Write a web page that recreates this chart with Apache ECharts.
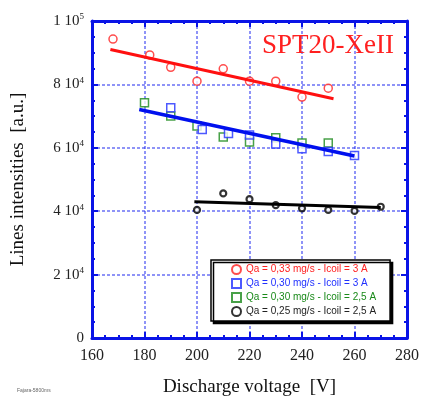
<!DOCTYPE html>
<html>
<head>
<meta charset="utf-8">
<script src="https://cdn.jsdelivr.net/npm/echarts@6/dist/echarts.min.js"></script>
<style>
html, body { margin: 0; padding: 0; background: #fff; }
#chart { width: 422px; height: 402px; }
</style>
</head>
<body>
<div id="chart"></div>
<script>
//measured points (discharge voltage, line intensity)
var redX = [168, 182, 190, 200, 210, 220, 230, 240, 250];
var redY = [94300, 89300, 85400, 81000, 84900, 81000, 81000, 76000, 78800];
var blueX = [190, 202, 212, 220, 230, 240, 250, 260];
var blueY = [72600, 65800, 64500, 64000, 61200, 59700, 58800, 57600];
var greenX = [180, 190, 200, 210, 220, 230, 240, 250];
var greenY = [74200, 70000, 66900, 63400, 61800, 63200, 61500, 61500];
var blackX = [200, 210, 220, 230, 240, 250, 260, 270];
var blackY = [40400, 45600, 43800, 41900, 40900, 40400, 40100, 41400];

//fit lines (end points)
var redFitX = [167, 252];
var redFitY = [91000, 75500];
var blueFitX = [178, 260];
var blueFitY = [72100, 57400];
var blackFitX = [199, 270];
var blackFitY = [43000, 41200];

var seriesNames = [
    'Qa = 0,33 mg/s - Icoil = 3 A',
    'Qa = 0,30 mg/s - Icoil = 3 A',
    'Qa = 0,30 mg/s - Icoil = 2,5 A',
    'Qa = 0,25 mg/s - Icoil = 2,5 A'
];
var yTickText = ['0', '2 10{s|4}', '4 10{s|4}', '6 10{s|4}', '8 10{s|4}', '1 10{s|5}'];

function pairs(xs, ys) {
    var out = [];
    for (var i = 0; i < xs.length; i++) out.push([xs[i], ys[i]]);
    return out;
}

var blue = '#0a14e6';
var serif = '"Liberation Serif", "DejaVu Serif", serif';

var chart = echarts.init(document.getElementById('chart'));

var tickStyle = { show: true, inside: true, length: 6, lineStyle: { color: blue, width: 2 } };
var minorStyle = { show: true, splitNumber: 4, length: 3, lineStyle: { color: blue, width: 2 } };
var gridLine = { show: true, lineStyle: { color: 'rgba(40,50,240,0.7)', width: 1.5, type: [3, 2] } };

var option = {
    animation: false,
    backgroundColor: '#fff',
    title: {
        text: 'SPT20-XeII',
        left: 257,
        top: 27,
        textStyle: { fontFamily: serif, fontWeight: 'normal', fontSize: 27, color: '#ff2020' }
    },
    graphic: [{
        type: 'text',
        left: 17,
        top: 388,
        style: { text: 'Fajara-5800ms', fontSize: 5, fill: '#666', fontFamily: 'Arial' }
    }],
    legend: {
        orient: 'vertical',
        left: 211,
        top: 260,
        padding: [4, 14, 4, 20],
        itemWidth: 9,
        itemHeight: 9,
        itemGap: 3,
        backgroundColor: '#fff',
        borderColor: '#000',
        borderWidth: 1.5,
        shadowColor: '#000',
        shadowOffsetX: 2.5,
        shadowOffsetY: 2.5,
        shadowBlur: 0,
        textStyle: { fontFamily: 'Arial, "Liberation Sans"', fontSize: 10, lineHeight: 10 },
        data: [
            { name: seriesNames[0], textStyle: { color: '#ff2020' } },
            { name: seriesNames[1], textStyle: { color: '#2030ff' } },
            { name: seriesNames[2], textStyle: { color: '#1a8a1a' } },
            { name: seriesNames[3], textStyle: { color: '#222' } }
        ]
    },
    grid: { left: 92, right: 12, top: 21, bottom: 62, containLabel: false },
    xAxis: [{
        type: 'value',
        min: 160,
        max: 280,
        interval: 20,
        name: 'Discharge voltage  [V]',
        nameLocation: 'middle',
        nameGap: 40,
        nameTextStyle: { fontFamily: serif, fontSize: 19, color: '#111' },
        axisLine: { show: true, onZero: false, lineStyle: { color: blue, width: 3 } },
        axisTick: tickStyle,
        minorTick: minorStyle,
        splitLine: gridLine,
        axisLabel: { margin: 10, fontFamily: serif, fontSize: 16, color: '#222' }
    }, {
        type: 'value',
        position: 'top',
        min: 160,
        max: 280,
        interval: 20,
        axisLine: { show: true, onZero: false, lineStyle: { color: blue, width: 3 } },
        axisTick: tickStyle,
        minorTick: minorStyle,
        splitLine: { show: false },
        axisLabel: { show: false }
    }],
    yAxis: [{
        type: 'value',
        min: 0,
        max: 100000,
        interval: 20000,
        name: 'Lines intensities  [a.u.]',
        nameLocation: 'middle',
        nameGap: 64,
        nameTextStyle: { fontFamily: serif, fontSize: 19, color: '#111' },
        axisLine: { show: true, onZero: false, lineStyle: { color: blue, width: 3 } },
        axisTick: tickStyle,
        minorTick: minorStyle,
        splitLine: gridLine,
        axisLabel: {
            margin: 8,
            fontFamily: serif,
            fontSize: 15,
            color: '#222',
            formatter: function (v) { return yTickText[Math.round(v / 20000)]; },
            rich: { s: { fontFamily: serif, fontSize: 9, color: '#222', verticalAlign: 'top', padding: [0, 0, 8, 0] } }
        }
    }, {
        type: 'value',
        position: 'right',
        min: 0,
        max: 100000,
        interval: 20000,
        axisLine: { show: true, onZero: false, lineStyle: { color: blue, width: 3 } },
        axisTick: tickStyle,
        minorTick: minorStyle,
        splitLine: { show: false },
        axisLabel: { show: false }
    }],
    series: [
        {
            name: seriesNames[0], type: 'scatter', symbol: 'circle', symbolSize: 8,
            itemStyle: { color: '#fff', borderColor: '#ff2020', borderWidth: 1.5 },
            data: pairs(redX, redY), z: 3
        },
        {
            name: seriesNames[2], type: 'scatter', symbol: 'rect', symbolSize: 8,
            itemStyle: { color: '#fff', borderColor: '#1a8a1a', borderWidth: 1.5 },
            data: pairs(greenX, greenY), z: 3
        },
        {
            name: seriesNames[1], type: 'scatter', symbol: 'rect', symbolSize: 8,
            itemStyle: { color: '#fff', borderColor: '#2030ff', borderWidth: 1.5 },
            data: pairs(blueX, blueY), z: 3
        },
        {
            name: seriesNames[3], type: 'scatter', symbol: 'circle', symbolSize: 6,
            itemStyle: { color: '#fff', borderColor: '#000', borderWidth: 2.2 },
            data: pairs(blackX, blackY), z: 3
        },
        {
            name: 'redFit', type: 'line', showSymbol: false, silent: true,
            lineStyle: { color: '#ff1010', width: 3 },
            data: pairs(redFitX, redFitY), z: 4
        },
        {
            name: 'blueFit', type: 'line', showSymbol: false, silent: true,
            lineStyle: { color: '#0010ee', width: 3.5 },
            data: pairs(blueFitX, blueFitY), z: 4
        },
        {
            name: 'blackFit', type: 'line', showSymbol: false, silent: true,
            lineStyle: { color: '#000', width: 3 },
            data: pairs(blackFitX, blackFitY), z: 4
        }
    ]
};

chart.setOption(option);
</script>
</body>
</html>
